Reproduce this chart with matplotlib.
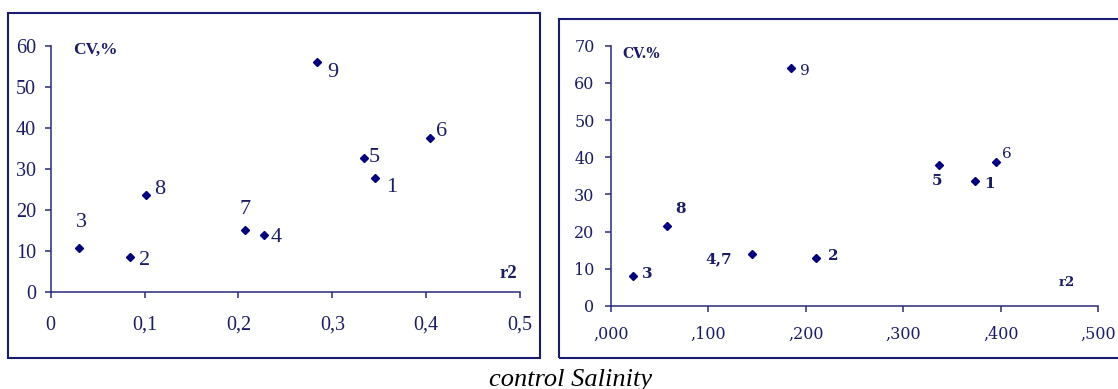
import matplotlib
matplotlib.use("Agg")
import matplotlib.pyplot as plt
from matplotlib.patches import Rectangle
from matplotlib.ticker import FixedLocator, FuncFormatter

# left panel: control
ctrl_labels = ["1", "2", "3", "4", "5", "6", "7", "8", "9"]
ctrl_r2 = [0.346, 0.085, 0.030, 0.227, 0.334, 0.404, 0.207, 0.101, 0.284]
ctrl_cv = [27.9, 8.4, 10.7, 13.9, 32.8, 37.5, 15.1, 23.6, 56.3]

# right panel: salinity
sal_labels = ["1", "2", "3", "4,7", "5", "6", "8", "9"]
sal_r2 = [0.374, 0.210, 0.023, 0.145, 0.337, 0.395, 0.057, 0.185]
sal_cv = [33.5, 13.0, 8.1, 14.0, 37.9, 38.8, 21.6, 63.9]

caption = "control Salinity"

NAVY = "#000080"
INK = "#1c1c66"
AXC = "#2a2a7a"

# label offsets in points (dx, dy)
ctrl_off = {"1": (11.5, -7.5), "2": (10, -2.4), "3": (1.8, 18.4), "4": (8.6, -1.7),
            "5": (7.2, 0.4), "6": (8.6, 4.8), "7": (0, 14.8), "8": (10, 4), "9": (11.5, -8.2)}
sal_off = {"1": (10, -1.7), "2": (13, 1.2), "3": (10.3, 1.4), "4,7": (-24, -4),
           "5": (-1.7, -11.3), "6": (7.7, 5.7), "8": (10, 12), "9": (9.9, -1.5)}
sal_bold = {"1", "2", "3", "4,7", "5", "8"}

fig = plt.figure(figsize=(11.18, 3.89), dpi=100)
fig.patch.set_facecolor("white")

# outer frames
fig.patches.append(Rectangle((0.0072, 0.0797), 0.4758, 0.8869, transform=fig.transFigure,
                             fill=False, edgecolor="#1a1a6e", linewidth=1.5))
fig.patches.append(Rectangle((0.5, 0.0797), 0.52, 0.8715, transform=fig.transFigure,
                             fill=False, edgecolor="#1a1a6e", linewidth=1.5))


def style_axes(ax):
    for s in ["top", "right"]:
        ax.spines[s].set_visible(False)
    for s in ["left", "bottom"]:
        ax.spines[s].set_color(AXC)
        ax.spines[s].set_linewidth(1.1)
    ax.set_facecolor("none")


# ---- left panel
ax1 = fig.add_axes([0.04535, 0.2506, 0.41977, 0.6299])
style_axes(ax1)
ax1.plot(ctrl_r2, ctrl_cv, "D", color=NAVY, markersize=3.6, linestyle="none", clip_on=False)
ax1.set_xlim(0, 0.5)
ax1.set_ylim(0, 60)
ax1.xaxis.set_major_locator(FixedLocator([0, 0.1, 0.2, 0.3, 0.4, 0.5]))
ax1.yaxis.set_major_locator(FixedLocator(range(0, 61, 10)))
ax1.xaxis.set_major_formatter(FuncFormatter(lambda v, p: ("%g" % round(v, 1)).replace(".", ",")))
ax1.tick_params(axis="x", length=4.5, width=1.1, color=AXC, pad=13, labelcolor=INK)
ax1.tick_params(axis="y", length=4, width=1.1, color=AXC, pad=6.5, labelcolor=INK)
for lab in ax1.get_xticklabels() + ax1.get_yticklabels():
    lab.set_fontfamily("Liberation Serif")
    lab.set_fontsize(14.5)
for lab, x, y in zip(ctrl_labels, ctrl_r2, ctrl_cv):
    ax1.annotate(lab, (x, y), xytext=ctrl_off[lab], textcoords="offset points",
                 ha="center", va="center", fontsize=16, family="Liberation Serif", color=INK)
ax1.text(95 / 1118, (389 - 50) / 389, "CV,%", transform=fig.transFigure, ha="center", va="center",
         fontsize=12.5, fontweight="bold", family="Liberation Serif", color=INK)
ax1.text(508 / 1118, (389 - 274) / 389, "r2", transform=fig.transFigure, ha="center", va="center",
         fontsize=13.5, fontweight="bold", family="Liberation Serif", color=INK)

# ---- right panel
ax2 = fig.add_axes([0.5465, 0.21337, 0.43587, 0.6689])
style_axes(ax2)
ax2.plot(sal_r2, sal_cv, "D", color=NAVY, markersize=4.2, linestyle="none", clip_on=False)
ax2.set_xlim(0, 0.5)
ax2.set_ylim(0, 70)
ax2.xaxis.set_major_locator(FixedLocator([0, 0.1, 0.2, 0.3, 0.4, 0.5]))
ax2.yaxis.set_major_locator(FixedLocator(range(0, 71, 10)))
ax2.xaxis.set_major_formatter(FuncFormatter(lambda v, p: ",%03d" % round(v * 1000)))
ax2.tick_params(axis="x", length=4, width=1.1, color=AXC, pad=10, labelcolor=INK)
ax2.tick_params(axis="y", length=4.3, width=1.1, color=AXC, pad=7.5, labelcolor=INK)
for lab in ax2.get_xticklabels() + ax2.get_yticklabels():
    lab.set_fontfamily("DejaVu Serif")
    lab.set_fontsize(11.5)
for lab, x, y in zip(sal_labels, sal_r2, sal_cv):
    bold = lab in sal_bold
    ax2.annotate(lab, (x, y), xytext=sal_off[lab], textcoords="offset points",
                 ha="center", va="center", fontsize=11, family="DejaVu Serif",
                 fontweight="bold" if bold else "normal", color=INK)
ax2.text(641 / 1118, (389 - 54) / 389, "CV.%", transform=fig.transFigure, ha="center", va="center",
         fontsize=10, fontweight="bold", family="DejaVu Serif", color=INK)
ax2.text(1067 / 1118, (389 - 282) / 389, "r2", transform=fig.transFigure, ha="center", va="center",
         fontsize=9.5, fontweight="bold", family="DejaVu Serif", color=INK)

# caption
fig.text(489 / 1118, (389 - 386) / 389, caption, ha="left", va="baseline",
         fontsize=19, style="italic", family="Liberation Serif", color="black")

fig.savefig("out.png", dpi=100, facecolor="white")
